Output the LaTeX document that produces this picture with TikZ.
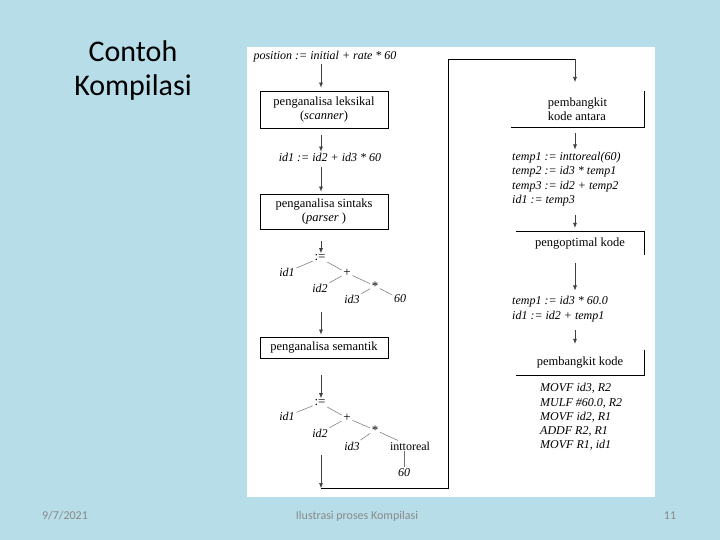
\documentclass[tikz,border=0pt]{standalone}
\usepackage{fontspec}
\setmainfont{Liberation Serif}
\newfontfamily\calib{Carlito}
\usetikzlibrary{arrows.meta,calc}
\definecolor{slidebg}{RGB}{183,221,232}
\definecolor{footgray}{RGB}{137,137,137}
\begin{document}
\begin{tikzpicture}[x=1pt,y=-1pt,
  txt/.style={font=\fontsize{12}{14}\selectfont, inner sep=1pt},
  itxt/.style={font=\fontsize{12}{14}\selectfont\itshape, inner sep=1pt},
  linetxt/.style={font=\fontsize{12}{14}\selectfont\itshape, inner sep=0pt, anchor=base west},
  stagebox/.style={draw, line width=0.8pt, font=\fontsize{12.5}{14.5}\selectfont, align=center, inner sep=0pt},
  halfbox/.style={font=\fontsize{12.5}{14}\selectfont, align=left, inner sep=0pt},
  edgeline/.style={line width=0.8pt},
  arr/.style={-{Latex[length=5pt,width=4pt]}, line width=0.6pt, draw=black!75},
  loopline/.style={line width=0.8pt},
  tedge/.style={draw=black!55, line width=0.5pt},
  tid/.style={font=\fontsize{12}{14}\selectfont\itshape, inner sep=1.5pt},
  top/.style={font=\fontsize{13}{15}\selectfont, inner sep=1.5pt},
  titletxt/.style={font=\calib\fontsize{30}{36}\selectfont, anchor=base},
  foot/.style={font=\calib\fontsize{12}{14}\selectfont, text=footgray, anchor=base},
]
\useasboundingbox (0,0) rectangle (720,540);
\fill[slidebg] (0,0) rectangle (720,540);
\fill[white] (247,47) rectangle (655,497);

% title and footer
\node[titletxt] (title1) at (133,62) {Contoh};
\node[titletxt] (title2) at (133,96) {Kompilasi};
\node[foot] (fdate) at (65,519) {9/7/2021};
\node[foot] (fmid) at (357,519) {Ilustrasi proses Kompilasi};
\node[foot] (fnum) at (670,519) {11};

% column guides
\coordinate (colL) at (321,0);
\coordinate (colR) at (575,0);

% left column
\node[itxt] (src) at (325,57) {position := initial + rate * 60};
\node[stagebox, minimum width=128pt, minimum height=37pt] (lex) at (324,109.5) {penganalisa leksikal\\(\textit{scanner})};
\node[itxt] (ir1) at (330,157) {id1 := id2 + id3 * 60};
\node[stagebox, minimum width=128pt, minimum height=35pt] (syn) at (324,211.5) {penganalisa sintaks\\(\textit{parser} )};

\draw[arr, shorten >=3pt] (src.south -| colL) -- (lex.north -| colL);
\draw[arr, shorten <=7pt] (lex.south -| colL) -- (ir1.north -| colL);
\draw[arr, shorten <=5pt, shorten >=2pt] (ir1.south -| colL) -- (syn.north -| colL);

% tree 1
\node[top] (r1) at (320,258) {:=};
\node[tid] (a1) at (287,272) {id1};
\node[top] (p1) at (347,273) {+};
\node[tid] (b1) at (320,288) {id2};
\node[top] (m1) at (375,286) {*};
\node[tid] (c1) at (352,299) {id3};
\node[tid] (d1) at (400,299) {60};
\draw[arr, shorten <=12pt] (syn.south -| colL) -- (r1.north -| colL);
\draw[tedge] (r1) -- (a1);
\draw[tedge] (r1) -- (p1);
\draw[tedge] (p1) -- (b1);
\draw[tedge] (p1) -- (m1);
\draw[tedge] (m1) -- (c1);
\draw[tedge] (m1) -- (d1);

\node[stagebox, minimum width=128pt, minimum height=21pt] (sem) at (324,347.5) {penganalisa semantik};
\coordinate (t1out) at (321,312);
\draw[arr, shorten >=2pt] (t1out) -- (sem.north -| colL);

% tree 2
\node[top] (r2) at (320,403) {:=};
\node[tid] (a2) at (287,416) {id1};
\node[top] (p2) at (347,418) {+};
\node[tid] (b2) at (320,433) {id2};
\node[top] (m2) at (375,430) {*};
\node[tid] (c2) at (352,446) {id3};
\node[txt] (e2) at (410,446) {inttoreal};
\node[tid] (f2) at (404,473) {60};
\coordinate (t2in) at (321,375);
\draw[arr] (t2in) -- (r2.north -| colL);
\draw[tedge] (r2) -- (a2);
\draw[tedge] (r2) -- (p2);
\draw[tedge] (p2) -- (b2);
\draw[tedge] (p2) -- (m2);
\draw[tedge] (m2) -- (c2);
\draw[tedge] (m2) -- (e2);
\draw[tedge] (e2.south -| f2) -- (f2.north);

% loop connection
\coordinate (t2out) at (321,455);
\coordinate (loopc) at (321,488);
\coordinate (lt) at (448,59);
\coordinate (antin) at (575,82);
\draw[arr] (t2out) -- (loopc);
\draw[loopline] (loopc) -| (lt) -- (lt -| colR);
\draw[arr] (lt -| colR) -- (antin);

% right column
\node[halfbox, minimum width=133pt, minimum height=36pt] (ant) at (577.5,109) {pembangkit\\kode antara};
\draw[edgeline] (ant.north east) -- (ant.south east) -- (ant.south west);

\node[linetxt] (tac1) at (512,161) {temp1 := inttoreal(60)};
\node[linetxt] (tac2) at (512,175) {temp2 := id3 * temp1};
\node[linetxt] (tac3) at (512,189.5) {temp3 := id2 + temp2};
\node[linetxt] (tac4) at (512,204) {id1 := temp3};
\draw[arr, shorten <=6pt, shorten >=3pt] (ant.south -| colR) -- (tac1.north -| colR);

\node[halfbox, minimum width=128pt, minimum height=23pt] (opt) at (580,243.5) {pengoptimal kode};
\draw[edgeline] (opt.north west) -- (opt.north east) -- (opt.south east);
\draw[arr, shorten <=8pt, shorten >=4pt] (tac4.south -| colR) -- (opt.north -| colR);

\node[linetxt] (oc1) at (512,304) {temp1 := id3 * 60.0};
\node[linetxt] (oc2) at (512,319) {id1 := id2 + temp1};
\draw[arr, shorten <=8pt, shorten >=5pt] (opt.south -| colR) -- (oc1.north -| colR);

\node[halfbox, minimum width=128pt, minimum height=25pt] (gen) at (580,362.5) {pembangkit kode};
\draw[edgeline] (gen.north east) -- (gen.south east) -- (gen.south west);
\draw[arr, shorten <=8pt, shorten >=6pt] (oc2.south -| colR) -- (gen.north -| colR);

\node[linetxt] (mc1) at (540,391.5) {MOVF id3, R2};
\node[linetxt] (mc2) at (540,406) {MULF \#60.0, R2};
\node[linetxt] (mc3) at (540,420) {MOVF id2, R1};
\node[linetxt] (mc4) at (540,434) {ADDF R2, R1};
\node[linetxt] (mc5) at (540,448) {MOVF R1, id1};
\end{tikzpicture}
\end{document}
